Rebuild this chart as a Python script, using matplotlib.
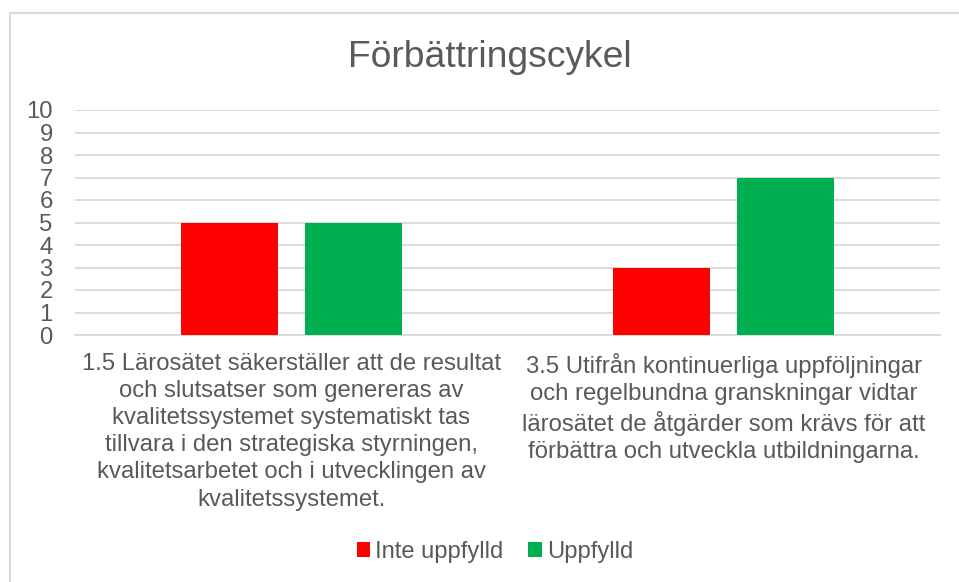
import matplotlib
matplotlib.use("Agg")
import matplotlib.pyplot as plt
from matplotlib.patches import Patch, Rectangle
import numpy as np

plt.rcParams['font.family'] = ['Liberation Sans', 'DejaVu Sans']

title = "Förbättringscykel"
categories = [
    "1.5 Lärosätet säkerställer att de resultat\noch slutsatser som genereras av\nkvalitetssystemet systematiskt tas\ntillvara i den strategiska styrningen,\nkvalitetsarbetet och i utvecklingen av\nkvalitetssystemet.",
    "3.5 Utifrån kontinuerliga uppföljningar\noch regelbundna granskningar vidtar\nlärosätet de åtgärder som krävs för att\nförbättra och utveckla utbildningarna.",
]
series_names = ["Inte uppfylld", "Uppfylld"]
inte_uppfylld = [5, 3]
uppfylld = [5, 7]
yticks = list(range(0, 11))

colors = ["#FF0000", "#00B050"]
text_color = "#595959"
grid_color = "#D9D9D9"

W, H = 959, 582
fig = plt.figure(figsize=(W / 100, H / 100), dpi=100)

# chart border (left/top visible)
fig.patches.append(Rectangle((10 / W, -0.1), 1.2, (H - 13) / H + 0.1,
                             transform=fig.transFigure, fill=False,
                             edgecolor=grid_color, linewidth=1.5))

left, right = 75 / W, 940 / W
bottom, top = 1 - 335 / H, 1 - 110 / H
ax = fig.add_axes([left, bottom, right - left, top - bottom])

x = np.arange(len(categories))
bw = 0.224
off = 0.143
ax.bar(x - off, inte_uppfylld, width=bw, color=colors[0], label=series_names[0], zorder=3)
ax.bar(x + off, uppfylld, width=bw, color=colors[1], label=series_names[1], zorder=3)

ax.set_xlim(-0.5, len(categories) - 0.5)
ax.set_ylim(0, 10)
ax.set_yticks(yticks)
ax.set_yticklabels([str(t) for t in yticks])
ax.yaxis.grid(True, color=grid_color, linewidth=1.3, zorder=0)
ax.set_axisbelow(True)
for s in ["top", "right", "left"]:
    ax.spines[s].set_visible(False)
ax.spines["bottom"].set_color(grid_color)
ax.spines["bottom"].set_linewidth(1.3)
ax.tick_params(axis="y", length=0, pad=16, labelsize=17.2, labelcolor=text_color)
ax.tick_params(axis="x", length=0, pad=13, labelsize=17.2, labelcolor=text_color)
ax.set_xticks(x)
ax.set_xticklabels(categories, linespacing=1.3, ha="center", va="top")

fig.text(490 / W, 1 - 67 / H, title, ha="center", va="baseline",
         fontsize=26.8, color=text_color)

handles = [Patch(facecolor=c, edgecolor="none") for c in colors]
fig.legend(handles, series_names, loc="center", bbox_to_anchor=(495 / W, 1 - 552 / H),
           ncol=2, frameon=False, fontsize=17.1, labelcolor=text_color,
           handlelength=0.55, handleheight=0.55, handletextpad=0.22,
           columnspacing=1.05, borderaxespad=0, borderpad=0)

fig.savefig("out.png", dpi=100, facecolor="white")
